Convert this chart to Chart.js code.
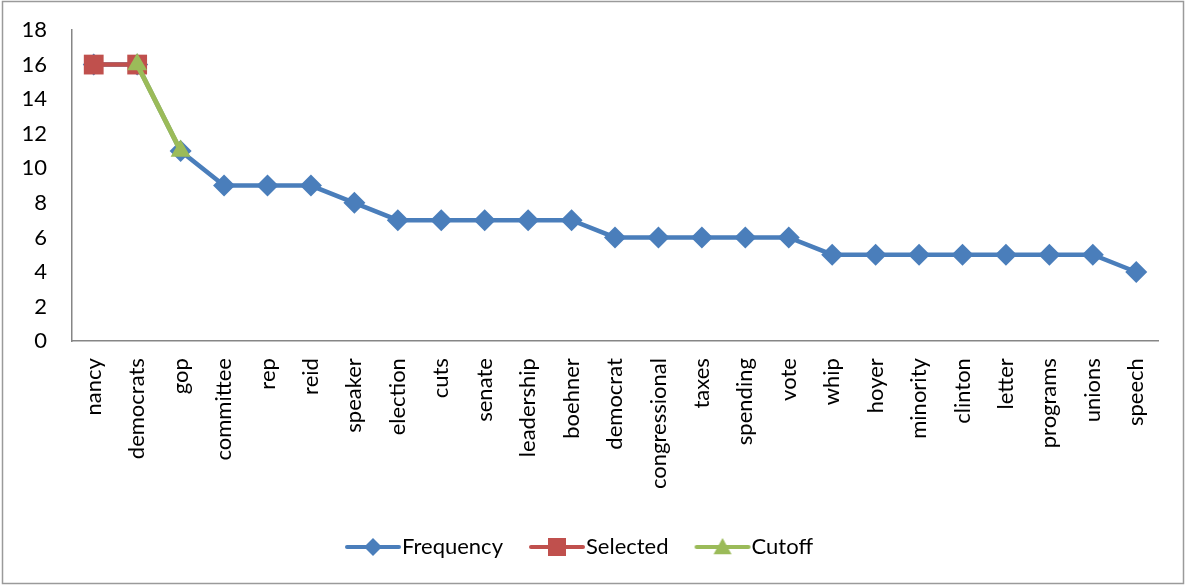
<!DOCTYPE html>
<html>
<head>
<meta charset="utf-8">
<script src="https://cdn.jsdelivr.net/npm/chart.js@4/dist/chart.umd.min.js"></script>
<style>
  html, body { margin: 0; padding: 0; background: #fff; }
  #wrap { width: 1186px; height: 586px; }
</style>
</head>
<body>
<div id="wrap"><canvas id="chart" width="1186" height="586"></canvas></div>
<script>
const words = ["nancy", "democrats", "gop", "committee", "rep", "reid", "speaker", "election", "cuts", "senate",
  "leadership", "boehner", "democrat", "congressional", "taxes", "spending", "vote", "whip", "hoyer", "minority",
  "clinton", "letter", "programs", "unions", "speech"];
const frequency = [16, 16, 11, 9, 9, 9, 8, 7, 7, 7, 7, 7, 6, 6, 6, 6, 6, 5, 5, 5, 5, 5, 5, 5, 4];
const selected = [16, 16, null, null, null, null, null, null, null, null, null, null, null, null, null, null, null,
  null, null, null, null, null, null, null, null];
const cutoff = [null, 16, 11, null, null, null, null, null, null, null, null, null, null, null, null, null, null,
  null, null, null, null, null, null, null, null];
const yTicks = [0, 2, 4, 6, 8, 10, 12, 14, 16, 18];

const BLUE = "#4a7ebb";
const RED = "#c0504d";
const GREEN = "#9bbb59";
const FONT = "Lato, 'Open Sans', sans-serif";

// legend icon: a short line with the marker in the middle
function legendIcon(color, style, r) {
  const c = document.createElement("canvas");
  c.width = 110; c.height = 26;
  const g = c.getContext("2d");
  g.strokeStyle = color; g.lineWidth = 4; g.lineCap = "round";
  g.beginPath(); g.moveTo(34, 13); g.lineTo(86, 13); g.stroke();
  g.fillStyle = color;
  g.beginPath();
  const cx = 60, cy = 13;
  if (style === "diamond") {
    g.moveTo(cx, cy - r); g.lineTo(cx + r, cy); g.lineTo(cx, cy + r); g.lineTo(cx - r, cy);
  } else if (style === "square") {
    g.rect(cx - r, cy - r, 2 * r, 2 * r);
  } else {
    g.moveTo(cx, cy - r); g.lineTo(cx + r, cy + r * 0.8); g.lineTo(cx - r, cy + r * 0.8);
  }
  g.closePath(); g.fill();
  return c;
}
const icons = [legendIcon(BLUE, "diamond", 9), legendIcon(RED, "square", 9), legendIcon(GREEN, "triangle", 9)];

const frame = {
  id: "frame",
  afterDraw(chart) {
    const ctx = chart.ctx;
    ctx.save();
    ctx.strokeStyle = "#9a9a9a";
    ctx.lineWidth = 1.5;
    ctx.strokeRect(2.5, 1.5, 1181, 582);
    ctx.restore();
  }
};

new Chart(document.getElementById("chart"), {
  type: "line",
  data: {
    labels: words,
    datasets: [
      {
        label: "Frequency", data: frequency, order: 2,
        borderColor: BLUE, backgroundColor: BLUE, borderWidth: 4.5,
        pointStyle: "rectRot", pointRadius: 11, pointHoverRadius: 11, pointBorderWidth: 0
      },
      {
        label: "Selected", data: selected, order: 1,
        borderColor: RED, backgroundColor: RED, borderWidth: 4.5,
        pointStyle: "rect", pointRadius: 14, pointHoverRadius: 14, pointBorderWidth: 0
      },
      {
        label: "Cutoff", data: cutoff, order: 0,
        borderColor: GREEN, backgroundColor: GREEN, borderWidth: 5,
        pointStyle: "triangle", pointRadius: 11.5, pointHoverRadius: 11.5, pointBorderWidth: 0
      }
    ]
  },
  options: {
    responsive: false,
    animation: false,
    layout: { padding: { left: 0, right: 28, top: 30, bottom: 18 } },
    plugins: {
      tooltip: { enabled: false },
      legend: {
        position: "bottom",
        labels: {
          usePointStyle: true,
          pointStyleWidth: 46,
          padding: 26,
          color: "#000",
          font: { family: FONT, size: 22 },
          generateLabels(chart) {
            return chart.data.datasets.map((ds, i) => ({
              text: ds.label, pointStyle: icons[i], fillStyle: ds.borderColor,
              strokeStyle: ds.borderColor, lineWidth: 0, hidden: false, datasetIndex: i, fontColor: "#000"
            }));
          }
        }
      }
    },
    scales: {
      x: {
        offset: true,
        afterFit(scale) { scale.height += 4; },
        grid: { display: false, drawTicks: false, offset: true },
        border: { display: true, color: "#868686", width: 1.5 },
        ticks: {
          color: "#000", font: { family: FONT, size: 22 },
          minRotation: 90, maxRotation: 90, autoSkip: false, padding: 17
        }
      },
      y: {
        min: 0, max: 18,
        afterFit(scale) { scale.width = 72; },
        afterBuildTicks(scale) { scale.ticks = yTicks.map(v => ({ value: v })); },
        // tick marks stay hidden; their length only spaces the labels off the axis
        grid: { display: false, drawTicks: true, tickLength: 22 },
        border: { display: true, color: "#868686", width: 1.5 },
        ticks: { color: "#000", font: { family: FONT, size: 22 }, padding: 3 }
      }
    }
  },
  plugins: [frame]
});
</script>
</body>
</html>
